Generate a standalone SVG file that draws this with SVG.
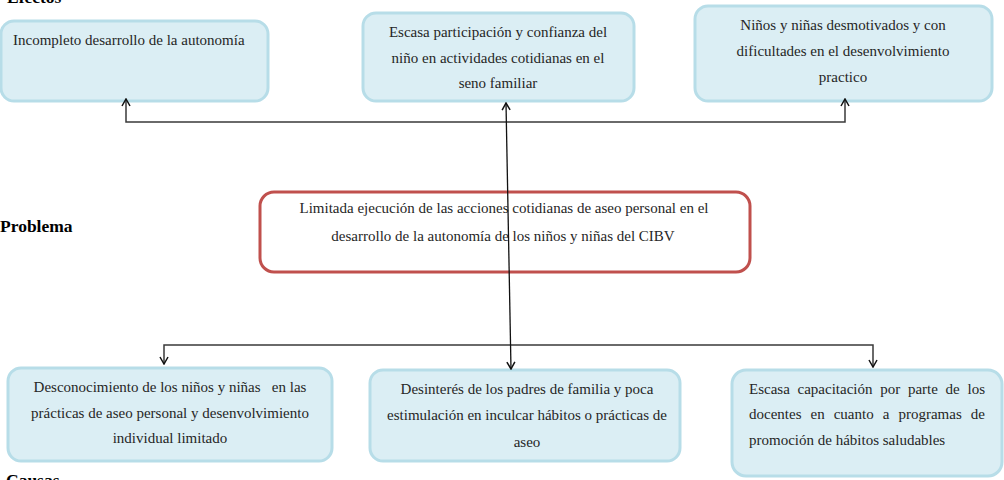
<svg xmlns="http://www.w3.org/2000/svg" width="1004" height="480" viewBox="0 0 1004 480">
<style>
.box{fill:#dbeef4;stroke:#b7dde8;stroke-width:3}
.prob{fill:#ffffff;stroke:#c0504d;stroke-width:3}
.t{font-family:"Liberation Serif","Times New Roman",serif;font-size:15px;fill:#262626}
.c{text-anchor:middle}
.lbl{font-family:"Liberation Serif","Times New Roman",serif;font-size:17.5px;font-weight:bold;fill:#000}
.con{fill:none;stroke:#3a3a3a;stroke-width:1.5}
.mid{fill:none;stroke:#111;stroke-width:1.3}
</style>
<defs>
<marker id="arr" viewBox="0 0 10 10" refX="9" refY="5" markerWidth="10" markerHeight="10" markerUnits="userSpaceOnUse" orient="auto-start-reverse">
<path d="M2,1 L9,5 L2,9" fill="none" stroke="#111" stroke-width="1.5"/>
</marker>
</defs>
<rect width="1004" height="480" fill="#ffffff"/>
<text class="lbl" x="7" y="3">Efectos</text>
<text class="lbl" x="0" y="232">Problema</text>
<text class="lbl" x="6" y="486">Causas</text>
<g id="efecto1">
<rect class="box" x="1" y="21" width="267" height="80" rx="13"/>
<text class="t" x="13" y="45">Incompleto desarrollo de la autonomía</text>
</g>
<g id="efecto2">
<rect class="box" x="363" y="13" width="271" height="88" rx="13"/>
<text class="t c" x="498" y="37">Escasa participación y confianza del</text>
<text class="t c" x="498" y="63">niño en actividades cotidianas en el</text>
<text class="t c" x="498" y="88">seno familiar</text>
</g>
<g id="efecto3">
<rect class="box" x="695" y="6" width="297" height="95" rx="13"/>
<text class="t c" x="843" y="30">Niños y niñas desmotivados y con</text>
<text class="t c" x="843" y="56">dificultades en el desenvolvimiento</text>
<text class="t c" x="843" y="82">practico</text>
</g>
<g id="problema">
<rect class="prob" x="260" y="192" width="490" height="80" rx="14"/>
<text class="t c" x="504" y="213">Limitada ejecución de las acciones cotidianas de aseo personal en el</text>
<text class="t c" x="503" y="241">desarrollo de la autonomía de los niños y niñas del CIBV</text>
</g>
<g id="causa1">
<rect class="box" x="8" y="368" width="324" height="93" rx="13"/>
<text class="t c" x="170" y="392" xml:space="preserve">Desconocimiento de los niños y niñas   en las</text>
<text class="t c" x="170" y="418">prácticas de aseo personal y desenvolvimiento</text>
<text class="t c" x="170" y="443">individual limitado</text>
</g>
<g id="causa2">
<rect class="box" x="370" y="370" width="310" height="91" rx="13"/>
<text class="t c" x="527" y="394">Desinterés de los padres de familia y poca</text>
<text class="t c" x="527" y="420">estimulación en inculcar hábitos o prácticas de</text>
<text class="t c" x="527" y="447">aseo</text>
</g>
<g id="causa3">
<rect class="box" x="732" y="370" width="270" height="106" rx="14"/>
<text class="t" x="749" y="394" style="word-spacing:3.97px">Escasa capacitación por parte de los</text>
<text class="t" x="749" y="419" style="word-spacing:5.29px">docentes en cuanto a programas de</text>
<text class="t" x="749" y="445">promoción de hábitos saludables</text>
</g>
<g id="connectors">
<path class="con" d="M126,99 L126,122 L845,122 L845,99" marker-start="url(#arr)" marker-end="url(#arr)"/>
<path class="con" d="M164,364 L164,345 L873,345 L873,367" marker-start="url(#arr)" marker-end="url(#arr)"/>
<path class="mid" d="M506,103 L511,369" marker-start="url(#arr)" marker-end="url(#arr)"/>
</g>
</svg>
